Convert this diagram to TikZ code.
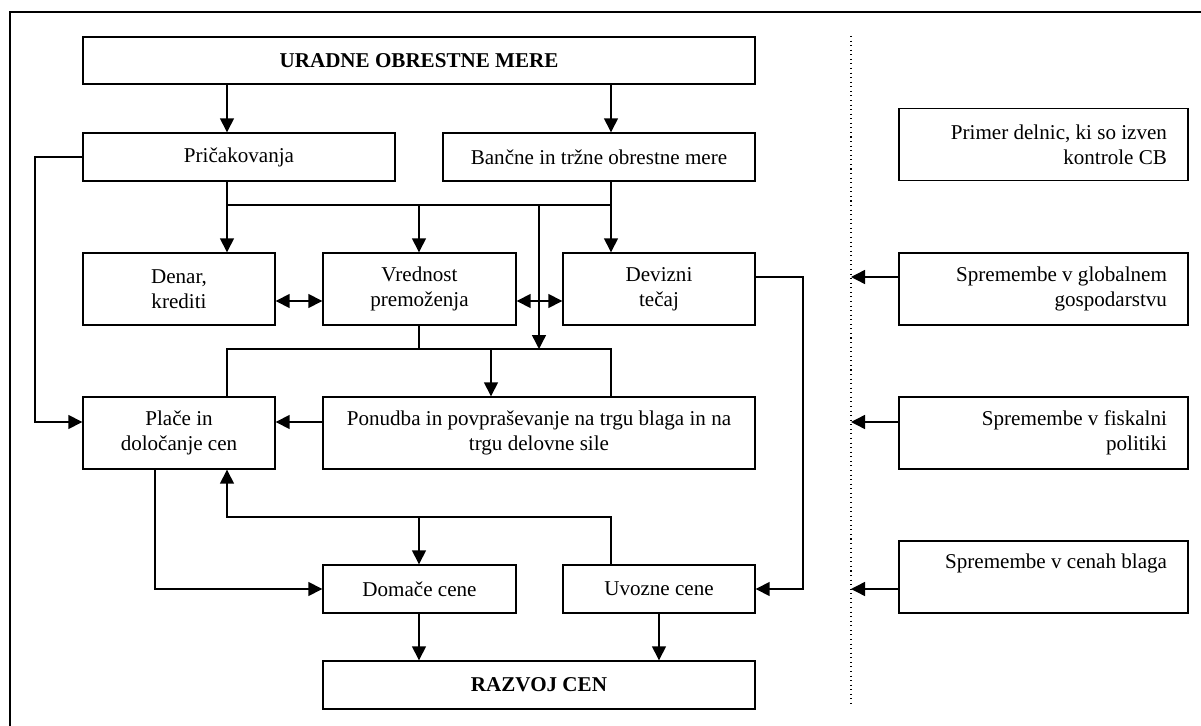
\documentclass[tikz,border=0pt]{standalone}
\usepackage{fontspec}
\setmainfont{Liberation Serif}
\usepackage{tikz}
\usetikzlibrary{arrows.meta}

\begin{document}
\begin{tikzpicture}[
    x=0.02cm, y=-0.02cm,
    line/.style={line width=0.8pt},
    arrow/.style={line, -{Triangle[length=0.28cm, width=0.28cm]}},
    both/.style={line, {Triangle[length=0.28cm, width=0.28cm]}-{Triangle[length=0.28cm, width=0.28cm]}},
    box/.style={rectangle, draw, line width=0.8pt, align=center, inner sep=0pt,
                font=\fontsize{12}{14.2}\selectfont},
    sidebox/.style={box, align=flush right, text width=4.94cm, inner xsep=0.42cm,
                    minimum width=5.78cm, minimum height=1.44cm}
]
\useasboundingbox (0,0) rectangle (1201,726);
\draw[line width=0.7pt] (10,726) |- (1201,12);

\node[box, minimum width=13.44cm, minimum height=0.94cm, font=\fontsize{12}{14.2}\selectfont\bfseries]
    (ur) at (419,60.5) {URADNE OBRESTNE MERE};
\node[box, minimum width=6.24cm, minimum height=0.96cm] (pric) at (239,157) {Pričakovanja};
\node[box, minimum width=6.24cm, minimum height=0.96cm] (banc) at (599,157) {Bančne in tržne obrestne mere};

\node[box, minimum width=3.84cm, minimum height=1.44cm] (denar) at (179,289) {Denar,\\krediti};
\node[box, minimum width=3.86cm, minimum height=1.44cm] (vred) at (419.5,289) {Vrednost\\premoženja};
\node[box, minimum width=3.84cm, minimum height=1.44cm] (dev) at (659,289) {Devizni\\tečaj};

\node[box, minimum width=3.84cm, minimum height=1.44cm] (place) at (179,433) {Plače in\\določanje cen};
\node[box, minimum width=8.64cm, minimum height=1.44cm] (ponud) at (539,433)
    {Ponudba in povpraševanje na trgu blaga in na\\trgu delovne sile};

\node[box, minimum width=3.86cm, minimum height=0.96cm] (dom) at (419.5,589) {Domače cene};
\node[box, minimum width=3.84cm, minimum height=0.96cm] (uvoz) at (659,589) {Uvozne cene};
\node[box, minimum width=8.64cm, minimum height=0.96cm, font=\fontsize{12}{14.2}\selectfont\bfseries]
    (razvoj) at (539,685) {RAZVOJ CEN};

\node[sidebox] (primer) at (1043.5,144.5) {Primer delnic, ki so izven\\kontrole CB};
\node[sidebox] (glob) at (1043.5,289) {Spremembe v globalnem\\gospodarstvu};
\node[sidebox] (fisk) at (1043.5,433) {Spremembe v fiskalni\\politiki};
\node[sidebox] (cen) at (1043.5,577) {Spremembe v cenah blaga\\\strut};

\coordinate (xa) at (227,0);
\coordinate (xb) at (419,0);
\coordinate (xc) at (491,0);
\coordinate (xd) at (539,0);
\coordinate (xe) at (611,0);
\coordinate (xf) at (35,0);
\coordinate (xg) at (155,0);
\coordinate (xh) at (803,0);
\coordinate (xi) at (851,0);
\coordinate (ya) at (0,205);
\coordinate (yb) at (0,349);
\coordinate (yc) at (0,517);
\coordinate (yd) at (0,301);
\coordinate (ye) at (0,422);
\coordinate (yf) at (0,277);
\coordinate (dtop) at (851,36);
\coordinate (dbot) at (851,706);

\draw[arrow] (ur.south -| xa) -- (pric.north -| xa);
\draw[arrow] (ur.south -| xe) -- (banc.north -| xe);
\draw[arrow] (pric.south -| xa) -- (denar.north -| xa);
\draw[arrow] (banc.south -| xe) -- (dev.north -| xe);
\draw[line] (xa |- ya) -- (xe |- ya);
\draw[arrow] (xb |- ya) -- (vred.north -| xb);
\draw[arrow] (xd |- ya) -- (xd |- yb);
\draw[both] (denar.east |- yd) -- (vred.west |- yd);
\draw[both] (vred.east |- yd) -- (dev.west |- yd);

\draw[line] (place.north -| xa) |- (xe |- yb) -- (ponud.north -| xe);
\draw[line] (vred.south -| xb) -- (xb |- yb);
\draw[arrow] (xc |- yb) -- (ponud.north -| xc);
\draw[arrow] (ponud.west |- ye) -- (place.east |- ye);
\draw[arrow] (pric.west) -| (xf |- ye) -- (place.west |- ye);

\draw[arrow] (place.south -| xg) |- (dom.west);
\draw[arrow] (uvoz.north -| xe) |- (xa |- yc) -- (place.south -| xa);
\draw[arrow] (xb |- yc) -- (dom.north -| xb);
\draw[arrow] (dom.south -| xb) -- (razvoj.north -| xb);
\draw[arrow] (uvoz.south) -- (razvoj.north -| uvoz.south);
\draw[arrow] (dev.east |- yf) -| (uvoz.east -| xh) -- (uvoz.east);

\draw[line width=0.6pt, dotted] (dtop) -- (dbot);
\draw[arrow] (glob.west |- yf) -- (xi |- yf);
\draw[arrow] (fisk.west |- ye) -- (xi |- ye);
\draw[arrow] (cen.west |- uvoz.east) -- (xi |- uvoz.east);
\end{tikzpicture}
\end{document}
